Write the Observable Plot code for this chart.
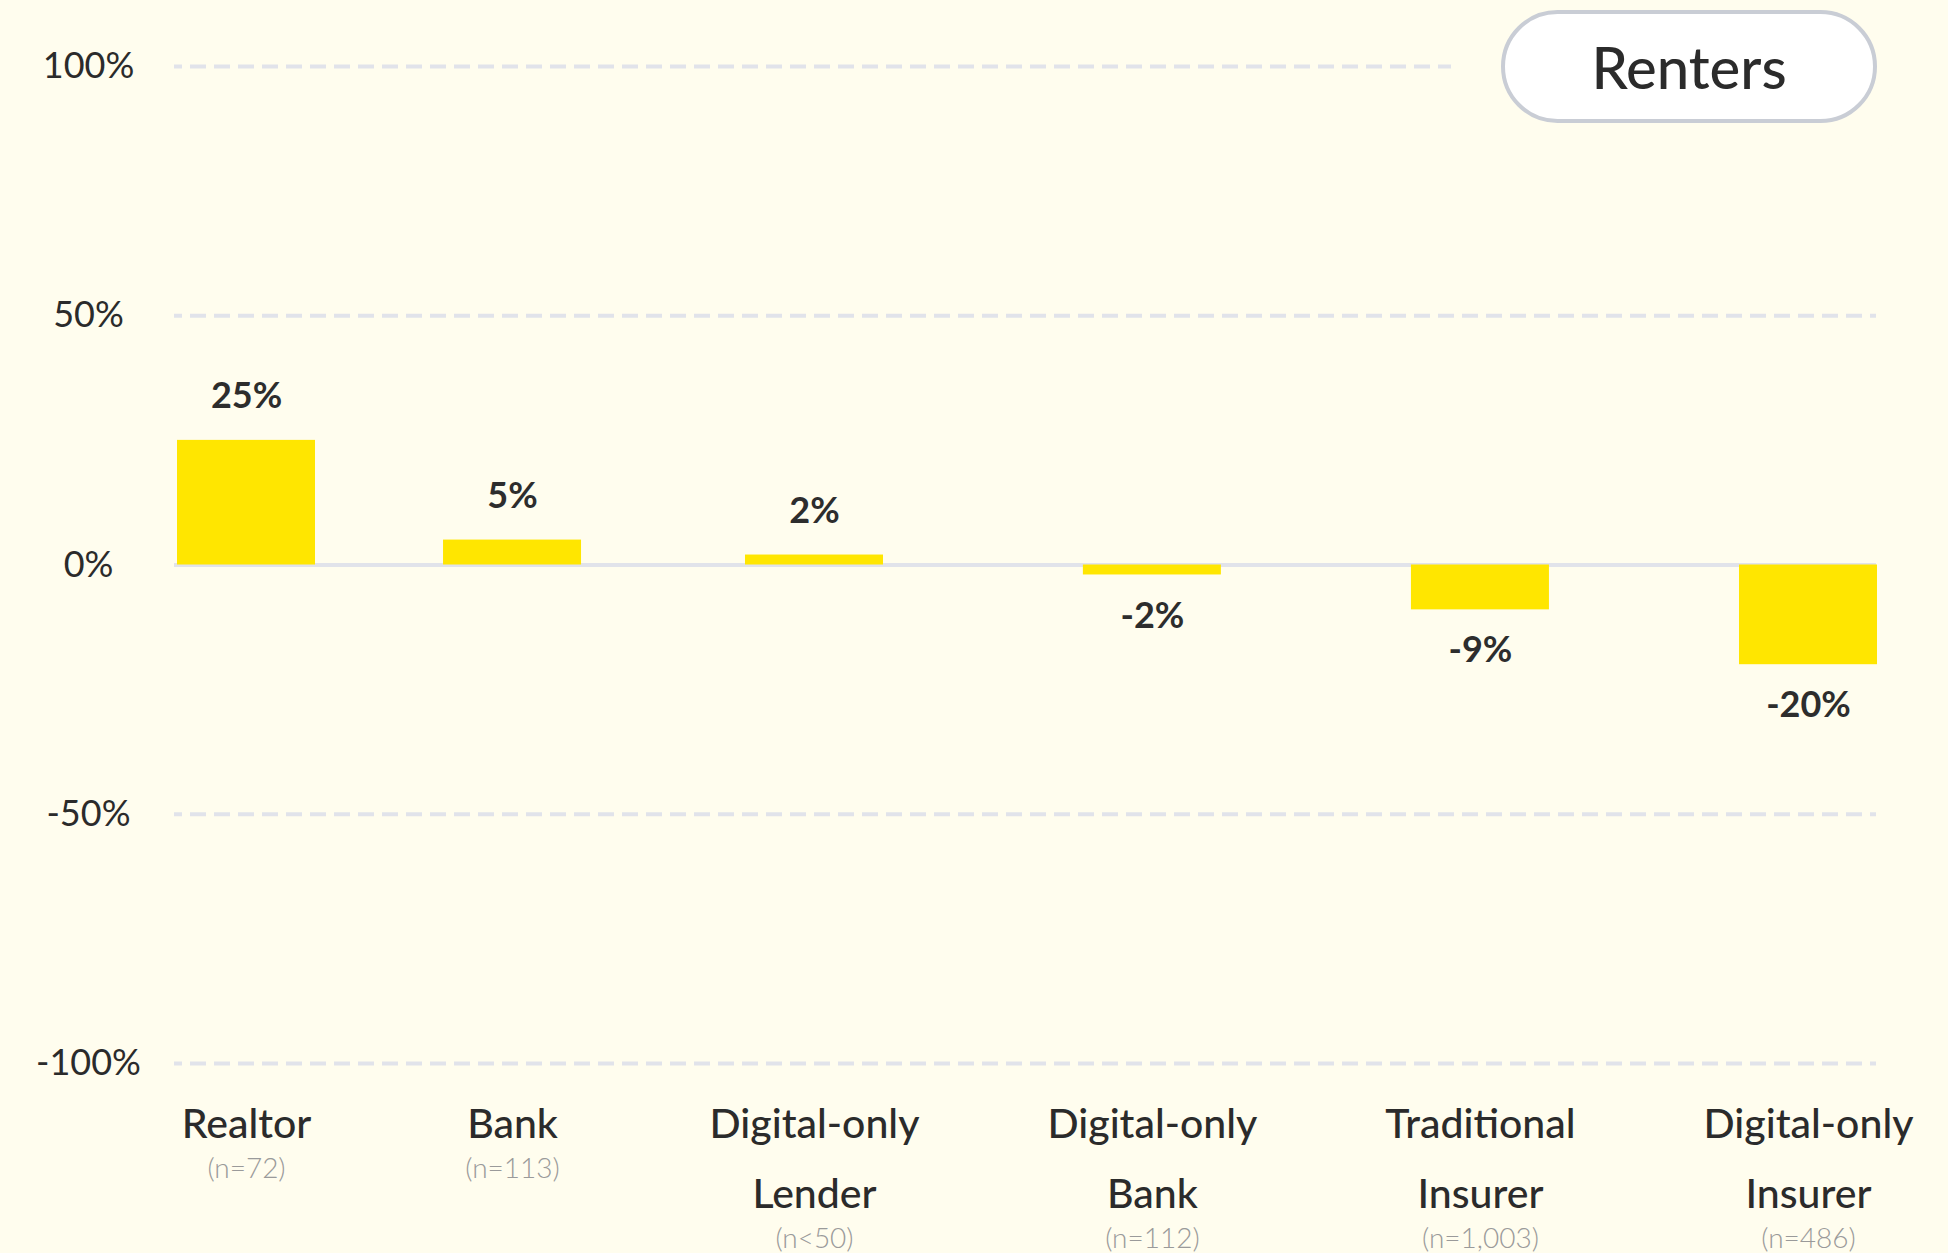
<!DOCTYPE html>
<html>
<head>
<meta charset="utf-8">
<script src="https://cdn.jsdelivr.net/npm/d3@7"></script>
<script src="https://cdn.jsdelivr.net/npm/@observablehq/plot@0.6"></script>
<style>
  html, body { margin: 0; padding: 0; background: #FFFDEE; }
  #wrap { position: relative; width: 1948px; height: 1253px; overflow: hidden; font-family: Lato, sans-serif; }
  #badge {
    position: absolute; left: 1501px; top: 10px; width: 376px; height: 113px;
    box-sizing: border-box; border: 4px solid #c9cdd5; border-radius: 57px;
    background: #ffffff; display: flex; align-items: center; justify-content: center;
    font: 500 58px Lato, sans-serif; color: #2b2b2b;
    box-shadow: 0 0 0 50px #FFFDEE;
  }
</style>
</head>
<body>
<div id="wrap"><div id="chart"></div><div id="badge"></div></div>
<script>
// ---- data ----
const categories = ["Realtor", "Bank", "Digital-only\nLender", "Digital-only\nBank", "Traditional\nInsurer", "Digital-only\nInsurer"];
const sampleSizes = ["(n=72)", "(n=113)", "(n<50)", "(n=112)", "(n=1,003)", "(n=486)"];
const values = [25, 5, 2, -2, -9, -20];
const yTicks = [-100, -50, 0, 50, 100];
const badgeLabel = "Renters";

// ---- layout ----
const W = 1948, H = 1253;
const mL = 174, mR = 72, mT = 66, mB = 190;
const barW = 138;
const labelFont = "500 41px Lato";

// columns sized like a flex row: each column as wide as its label (or bar), equal gaps
const ctx = document.createElement("canvas").getContext("2d");
ctx.font = labelFont;
const colW = categories.map(c => Math.max(barW, d3.max(c.split("\n"), s => ctx.measureText(s).width)));
const start = mL + 3 - (colW[0] - barW) / 2;
const end = W - mR + 1 + (colW[colW.length - 1] - barW) / 2;
const gap = (end - start - d3.sum(colW)) / (colW.length - 1);
let acc = start;
const centers = colW.map(w => { const c = acc + w / 2; acc += w + gap; return c; });

const data = categories.map((name, i) => ({
  name, n: sampleSizes[i], value: values[i], cx: centers[i], lines: name.split("\n").length
}));

const ink = "#2b2b2b";
const chart = Plot.plot({
  width: W, height: H,
  marginLeft: mL, marginRight: mR, marginTop: mT, marginBottom: mB,
  style: { background: "transparent", fontFamily: "Lato, sans-serif", overflow: "visible" },
  x: { type: "identity", axis: null },
  y: { domain: [-100, 100] },
  marks: [
    Plot.ruleY(yTicks.filter(t => t !== 0), { stroke: "#e1e3ea", strokeWidth: 4, strokeDasharray: "16,8", strokeDashoffset: 8 }),
    Plot.ruleY([0], { stroke: "#e1e3ea", strokeWidth: 4 }),
    Plot.axisY(yTicks, { tickSize: 0, tickPadding: 86, textAnchor: "middle", tickFormat: d => `${d}%`, fontSize: 36, fill: ink, label: null }),
    Plot.rectY(data, { x1: d => d.cx - barW / 2, x2: d => d.cx + barW / 2, y1: 0, y2: "value", fill: "#FFE600" }),
    Plot.text(data.filter(d => d.value > 0), { x: "cx", y: "value", text: d => `${d.value}%`, dy: -44, fontSize: 36, fontWeight: 700, fill: "#2d2d2d" }),
    Plot.text(data.filter(d => d.value < 0), { x: "cx", y: "value", text: d => `${d.value}%`, dy: 41, fontSize: 36, fontWeight: 700, fill: "#2d2d2d" }),
    Plot.text(data, { x: "cx", frameAnchor: "bottom", text: "name", lineAnchor: "top", dy: 25, fontSize: 41, fontWeight: 500, lineHeight: 1.7, fill: ink }),
    Plot.text(data.filter(d => d.lines === 1), { x: "cx", frameAnchor: "bottom", text: "n", dy: 114, fontSize: 28, fontWeight: 300, fill: "#9a9a9a" }),
    Plot.text(data.filter(d => d.lines === 2), { x: "cx", frameAnchor: "bottom", text: "n", dy: 184, fontSize: 28, fontWeight: 300, fill: "#9a9a9a" })
  ]
});
document.getElementById("chart").appendChild(chart);
document.getElementById("badge").textContent = badgeLabel;
</script>
</body>
</html>
